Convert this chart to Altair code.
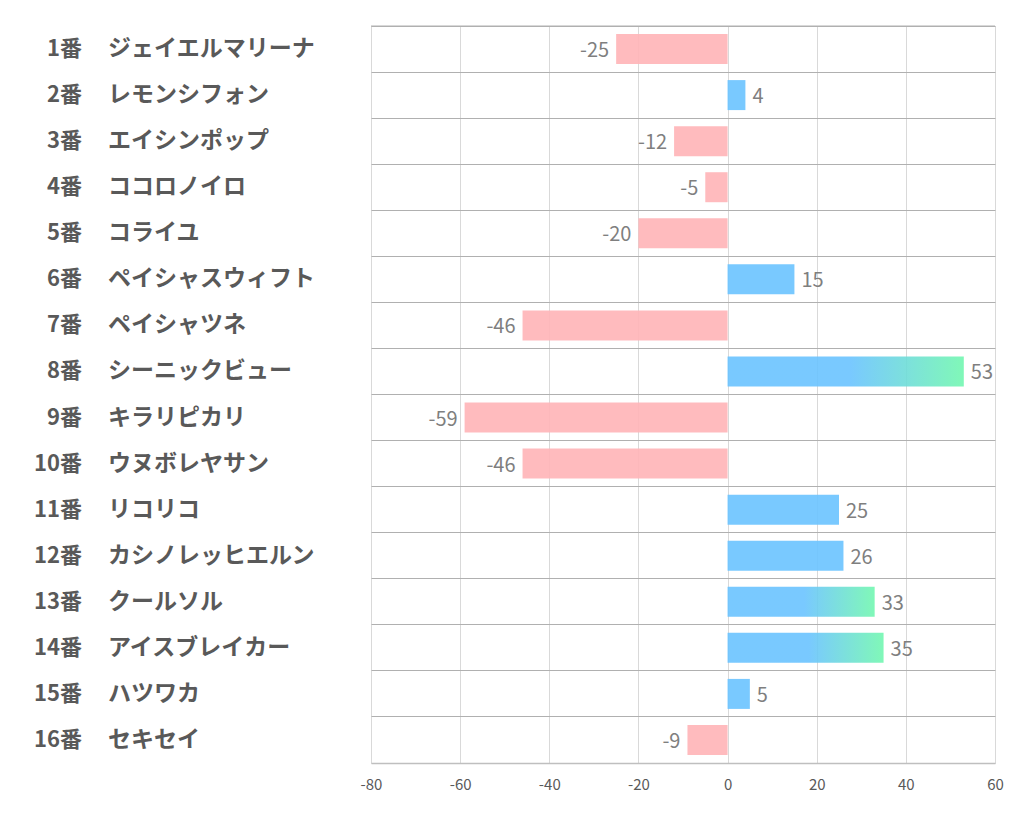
import altair as alt
import pandas as pd

nums = ["1番", "2番", "3番", "4番", "5番", "6番", "7番", "8番",
        "9番", "10番", "11番", "12番", "13番", "14番", "15番", "16番"]
names = ["ジェイエルマリーナ", "レモンシフォン", "エイシンポップ", "ココロノイロ",
         "コライユ", "ペイシャスウィフト", "ペイシャツネ", "シーニックビュー",
         "キラリピカリ", "ウヌボレヤサン", "リコリコ", "カシノレッヒエルン",
         "クールソル", "アイスブレイカー", "ハツワカ", "セキセイ"]
values = [-25, 4, -12, -5, -20, 15, -46, 53, -59, -46, 25, 26, 33, 35, 5, -9]
x_ticks = [-80, -60, -40, -20, 0, 20, 40, 60]

df = pd.DataFrame({"num": nums, "name": names, "value": values})
df["label"] = [str(v) for v in values]
df["kind"] = ["neg" if v < 0 else ("grad" if v > 30 else "pos") for v in values]

FONT = "Noto Sans CJK JP"
W, H = 624, 737

xscale = alt.Scale(domain=[-80, 60], nice=False, zero=False)
yscale = alt.Scale(domain=nums, paddingInner=0, paddingOuter=0)

x_enc = alt.X("value:Q", scale=xscale,
              axis=alt.Axis(values=x_ticks, title=None, grid=True, gridColor="#d9d9d9",
                            gridWidth=1, ticks=False, domain=True, domainColor="#bfbfbf",
                            domainWidth=1.5, labelFont=FONT, labelFontSize=15,
                            labelColor="#595959", labelPadding=14, labelFlush=False,
                            labelOverlap=False, labelExpr="datum.value + ''"))
y_enc = alt.Y("num:N", scale=yscale, sort=nums,
              axis=alt.Axis(title=None, labels=False, ticks=False, domain=False,
                            grid=True, gridColor="#b0b0b0", gridWidth=1, bandPosition=0))

base = alt.Chart(df)

flat = base.transform_filter("datum.kind != 'grad'").mark_bar(size=30, opacity=0.9).encode(
    x=x_enc, x2=alt.datum(0), y=y_enc,
    color=alt.Color("kind:N", scale=alt.Scale(domain=["neg", "pos"],
                                              range=["#ffb4b7", "#6ac3ff"]), legend=None),
)

grad = base.transform_filter("datum.kind == 'grad'").mark_bar(
    size=30, opacity=0.9,
    color=alt.Gradient(gradient="linear",
                       stops=[alt.GradientStop(color="#6ac3ff", offset=0),
                              alt.GradientStop(color="#6ac3ff", offset=0.52),
                              alt.GradientStop(color="#72f7b0", offset=1)],
                       x1=0, x2=1, y1=0, y2=0)
).encode(x=alt.X("value:Q", scale=xscale), x2=alt.datum(0), y=alt.Y("num:N", scale=yscale, sort=nums))

pos_lbl = base.transform_filter("datum.value >= 0").mark_text(
    align="left", baseline="middle", dx=7, dy=2, font=FONT, fontSize=20, color="#7f7f7f"
).encode(x=alt.X("value:Q", scale=xscale), y=alt.Y("num:N", scale=yscale, sort=nums),
         text="label:N")

neg_lbl = base.transform_filter("datum.value < 0").mark_text(
    align="right", baseline="middle", dx=-7, dy=2, font=FONT, fontSize=20, color="#7f7f7f"
).encode(x=alt.X("value:Q", scale=xscale), y=alt.Y("num:N", scale=yscale, sort=nums),
         text="label:N")

num_lbl = base.mark_text(
    align="right", baseline="middle", font=FONT, fontSize=22, fontWeight="bold", color="#595959"
).encode(x=alt.value(-289), y=alt.Y("num:N", scale=yscale, sort=nums), text="num:N")

name_lbl = base.mark_text(
    align="left", baseline="middle", font=FONT, fontSize=23, fontWeight="bold", color="#595959"
).encode(x=alt.value(-263), y=alt.Y("num:N", scale=yscale, sort=nums), text="name:N")

top_line = alt.Chart(pd.DataFrame({"a": [0]})).mark_rule(color="#b0b0b0", strokeWidth=1).encode(
    x=alt.value(0), x2=alt.value(W), y=alt.value(0))

chart = alt.layer(flat, grad, pos_lbl, neg_lbl, num_lbl, name_lbl, top_line).properties(
    width=W, height=H,
    autosize=alt.AutoSizeParams(type="none"),
    padding={"left": 363, "top": 18, "right": 19, "bottom": 60},
).configure_view(stroke=None).configure(background="white")

chart.save("out.html", embed_options={"renderer": "svg", "actions": False})
